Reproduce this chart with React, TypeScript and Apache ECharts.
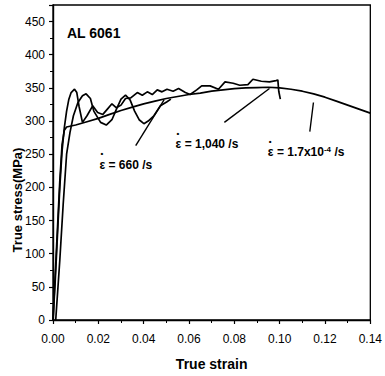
import React, { useEffect, useRef } from "react";
import * as echarts from "echarts";

// ---- data ----
const xTicks = [0, 0.02, 0.04, 0.06, 0.08, 0.1, 0.12, 0.14];
const yTicks = [0, 50, 100, 150, 200, 250, 300, 350, 400, 450];

// quasi-static, strain rate 1.7x10^-4 /s
const qsStrain = [0, 0.001, 0.002, 0.003, 0.004, 0.005, 0.006, 0.01, 0.015, 0.02, 0.025, 0.03, 0.035, 0.04, 0.045, 0.05, 0.055, 0.06, 0.065, 0.07, 0.075, 0.08, 0.085, 0.09, 0.095, 0.1, 0.105, 0.11, 0.115, 0.12, 0.125, 0.13, 0.135, 0.14];
const qsStress = [0, 70, 140, 210, 265, 286, 291, 294, 299, 304, 310, 316, 321, 326, 330, 334, 337, 340, 342, 345, 347, 349, 350, 350.5, 351, 350, 348, 345, 341, 336, 330, 324, 318, 312];

// 1,040 /s
const hr1Strain = [0, 0.001, 0.002, 0.003, 0.004, 0.005, 0.006, 0.007, 0.008, 0.0095, 0.0105, 0.0115, 0.013, 0.015, 0.0175, 0.0197, 0.022, 0.024, 0.026, 0.028, 0.03, 0.032, 0.0343, 0.0372, 0.0394, 0.0416, 0.0438, 0.046, 0.0481, 0.0503, 0.053, 0.0554, 0.0584, 0.0605, 0.0634, 0.0656, 0.0693, 0.073, 0.0759, 0.0795, 0.0824, 0.086, 0.0882, 0.0919, 0.0955, 0.0984, 0.0992, 0.0996, 0.1003];
const hr1Stress = [0, 60, 130, 200, 255, 290, 315, 333, 343, 348, 343, 322, 298, 308, 323, 313, 310, 318, 326, 320, 324, 334, 335, 343, 339, 344, 340, 347, 344, 348, 345, 349, 343, 340, 347, 353, 353, 348, 359, 357, 354, 355, 363, 360, 359, 361, 362, 345, 333];

// 660 /s
const hr2Strain = [0.0012, 0.003, 0.0045, 0.006, 0.0075, 0.009, 0.011, 0.013, 0.0146, 0.0165, 0.018, 0.021, 0.0235, 0.026, 0.028, 0.03, 0.032, 0.034, 0.036, 0.038, 0.0401, 0.042, 0.0445, 0.0474, 0.0503, 0.052];
const hr2Stress = [0, 90, 175, 250, 283, 308, 328, 338, 341, 334, 315, 298, 294, 302, 318, 333, 339, 332, 315, 302, 296, 300, 308, 323, 329, 333];

// annotation pointers [x0, y0, x1, y1]
const pointer660 = [0.0365, 263, 0.049, 332];
const pointer1040 = [0.0756, 298, 0.0955, 349];
const pointerQs = [0.1133, 284, 0.1149, 328];

// annotation label anchors (left edge, text middle)
const label660 = [0.0205, 240];
const label1040 = [0.0541, 271];
const labelQs = [0.0948, 259];

const pairs = (xs: number[], ys: number[]) => xs.map((x, i) => [x, ys[i]]);

const FONT = "Liberation Sans, Arial, sans-serif";

export default function App() {
  const ref = useRef<HTMLDivElement>(null);
  useEffect(() => {
    if (!ref.current) return;
    const chart = echarts.init(ref.current, undefined, { renderer: "svg" });
    const lineStyle = { color: "#000", width: 1.7 };
    const rich = {
      d: { fontSize: 8, fontWeight: "bold", color: "#000", lineHeight: 8, padding: [0, 0, 0, 1], fontFamily: FONT },
      t: { fontSize: 12, fontWeight: "bold", color: "#000", lineHeight: 14, fontFamily: FONT },
      s: { fontSize: 8, fontWeight: "bold", color: "#000", lineHeight: 8, verticalAlign: "top", fontFamily: FONT },
    };
    const labelBase = {
      show: true,
      position: "right" as const,
      distance: 0,
      color: "#000",
      fontFamily: FONT,
      fontWeight: "bold" as const,
      fontSize: 12,
      align: "left" as const,
      rich,
    };
    const mkPointer = (p: number[]) => [{ coord: [p[0], p[1]] }, { coord: [p[2], p[3]] }];
    chart.setOption({
      animation: false,
      backgroundColor: "#fff",
      grid: { left: 53, right: 12, top: 5, bottom: 53, show: true, borderColor: "#000", borderWidth: 1.3, backgroundColor: "transparent" },
      xAxis: {
        type: "value",
        min: xTicks[0],
        max: xTicks[xTicks.length - 1],
        interval: 0.02,
        name: "True strain",
        nameLocation: "middle",
        nameGap: 37,
        nameTextStyle: { color: "#000", fontSize: 14, fontWeight: "bold", fontFamily: FONT },
        axisLine: { lineStyle: { color: "#000", width: 1.4 } },
        axisTick: { lineStyle: { color: "#000", width: 1.2 }, length: 4 },
        minorTick: { show: true, splitNumber: 2, length: 3, lineStyle: { color: "#000" } },
        splitLine: { show: false },
        axisLabel: { color: "#000", fontSize: 12, margin: 13, fontFamily: FONT, formatter: (v: number) => v.toFixed(2) },
      },
      yAxis: {
        type: "value",
        min: yTicks[0],
        max: 475,
        interval: 50,
        axisLine: { show: true, lineStyle: { color: "#000", width: 1.4 } },
        axisTick: { show: true, lineStyle: { color: "#000", width: 1.2 }, length: 4 },
        minorTick: { show: true, splitNumber: 2, length: 3, lineStyle: { color: "#000" } },
        splitLine: { show: false },
        axisLabel: {
          color: "#000",
          fontSize: 12,
          margin: 8,
          fontFamily: FONT,
          formatter: (v: number) => (yTicks.indexOf(v) >= 0 ? String(v) : ""),
        },
      },
      graphic: [
        {
          type: "text",
          x: 17,
          y: 200,
          rotation: Math.PI / 2,
          style: { text: "True stress(MPa)", font: "bold 13px 'Liberation Sans', Arial, sans-serif", fill: "#000", textAlign: "center", textVerticalAlign: "middle" },
        },
        {
          type: "text",
          x: 67,
          y: 33,
          style: { text: "AL 6061", font: "bold 14px 'Liberation Sans', Arial, sans-serif", fill: "#000", textAlign: "left", textVerticalAlign: "middle" },
        },
      ],
      series: [
        {
          name: "1.7x10^-4 /s",
          type: "line",
          data: pairs(qsStrain, qsStress),
          showSymbol: false,
          lineStyle,
          markLine: {
            silent: true,
            symbol: "none",
            label: { show: false },
            lineStyle: { color: "#000", width: 1.4, type: "solid" },
            data: [mkPointer(pointer660), mkPointer(pointer1040), mkPointer(pointerQs)],
          },
          markPoint: {
            silent: true,
            symbol: "circle",
            symbolSize: 0,
            data: [
              { coord: label660, label: { ...labelBase, formatter: "{d|•}\n{t|ε = 660 /s}" } },
              { coord: label1040, label: { ...labelBase, formatter: "{d|•}\n{t|ε = 1,040 /s}" } },
              { coord: labelQs, label: { ...labelBase, formatter: "{d|•}\n{t|ε = 1.7x10}{s|-4}{t| /s}" } },
            ],
          },
        },
        { name: "1,040 /s", type: "line", data: pairs(hr1Strain, hr1Stress), showSymbol: false, lineStyle },
        { name: "660 /s", type: "line", data: pairs(hr2Strain, hr2Stress), showSymbol: false, lineStyle },
      ],
    });
    return () => chart.dispose();
  }, []);
  return <div ref={ref} style={{ width: 385, height: 376, position: "absolute", left: 0, top: 0 }} />;
}
